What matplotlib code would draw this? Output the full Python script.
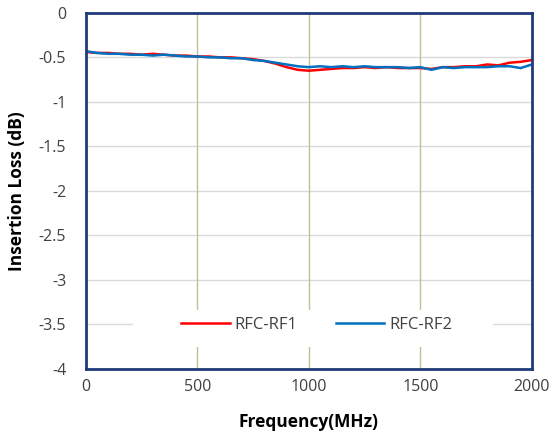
import matplotlib
matplotlib.use("Agg")
import matplotlib.pyplot as plt
from matplotlib.patches import Rectangle

freq = list(range(0, 2001, 50))
rf1 = [-0.44, -0.45, -0.45, -0.46, -0.46, -0.47, -0.46, -0.47, -0.48, -0.48,
       -0.49, -0.49, -0.50, -0.50, -0.51, -0.52, -0.54, -0.57, -0.61, -0.64,
       -0.65, -0.64, -0.63, -0.62, -0.62, -0.61, -0.62, -0.61, -0.62, -0.62,
       -0.62, -0.63, -0.61, -0.61, -0.60, -0.60, -0.58, -0.59, -0.56, -0.55, -0.53]
rf2 = [-0.43, -0.45, -0.46, -0.46, -0.47, -0.47, -0.48, -0.47, -0.48, -0.49,
       -0.49, -0.50, -0.50, -0.51, -0.51, -0.53, -0.54, -0.56, -0.58, -0.60,
       -0.61, -0.60, -0.61, -0.60, -0.61, -0.60, -0.61, -0.61, -0.61, -0.62,
       -0.61, -0.64, -0.61, -0.62, -0.61, -0.61, -0.61, -0.60, -0.60, -0.62, -0.58]
xticks = [0, 500, 1000, 1500, 2000]
yticks = [0, -0.5, -1, -1.5, -2, -2.5, -3, -3.5, -4]
series_names = ["RFC-RF1", "RFC-RF2"]

plt.rcParams['font.family'] = ['Open Sans', 'DejaVu Sans']

fig = plt.figure(figsize=(5.5, 4.36), dpi=100)
ax = fig.add_axes([0.156, 0.154, 0.811, 0.8165])

for yv in yticks[1:-1]:
    ax.axhline(yv, color='#d9d9d9', lw=1.0, zorder=1)
for xv in xticks[1:-1]:
    ax.axvline(xv, color='#c4bd97', lw=1.0, zorder=1)

ax.plot(freq, rf1, color='#ff0000', lw=1.8, label=series_names[0], zorder=3)
ax.plot(freq, rf2, color='#0070c0', lw=1.8, label=series_names[1], zorder=4)

ax.set_xlim(0, 2000)
ax.set_ylim(-4, 0)
ax.set_xticks(xticks)
ax.set_xticklabels([str(v) for v in xticks])
ax.set_yticks(yticks)
ax.set_yticklabels(['0' if v == 0 else ('%g' % v) for v in yticks])
ax.tick_params(length=0, labelsize=11.5, colors='#404040')
ax.tick_params(axis='y', pad=14)
ax.tick_params(axis='x', pad=7)
for s in ax.spines.values():
    s.set_color('#1f3b7a')
    s.set_linewidth(2)
    s.set_zorder(6)

ax.set_xlabel('Frequency(MHz)', fontsize=12.5, fontweight='bold', va='center')
ax.set_ylabel('Insertion Loss (dB)', fontsize=12.5, fontweight='bold', va='center')
ax.xaxis.set_label_coords(0.5, -0.149)
ax.yaxis.set_label_coords(-0.155, 0.5)

# legend background box
ax.add_patch(Rectangle((0.105, 0.062), 0.808, 0.104, transform=ax.transAxes,
                       facecolor='white', edgecolor='none', zorder=5))
leg = ax.legend(loc='center', bbox_to_anchor=(0.518, 0.124), ncol=2,
                frameon=False, fontsize=12, handlelength=2.9, handletextpad=0.3,
                columnspacing=2.3)
leg.set_zorder(7)
for t in leg.get_texts():
    t.set_color('#404040')

fig.savefig('out.png', dpi=100)
